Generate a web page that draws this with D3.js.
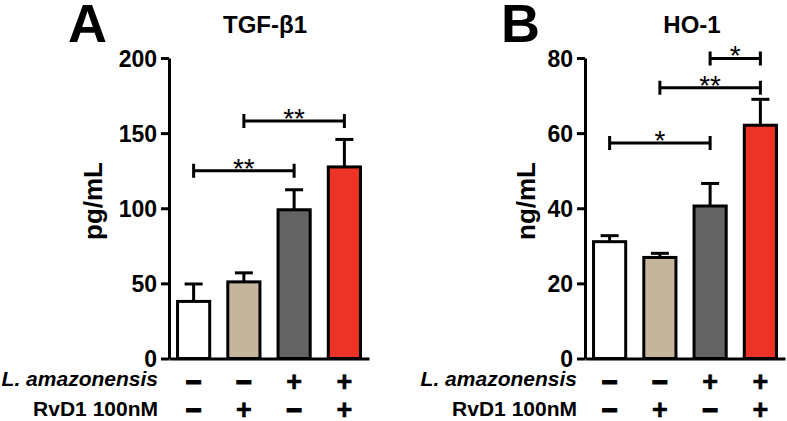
<!DOCTYPE html>
<html lang="en">
<head>
  <meta charset="UTF-8" />
  <title>TGF-β1 and HO-1</title>
  <script src="https://d3js.org/d3.v7.min.js"></script>
  <style>
    html, body {
      margin: 0;
      padding: 0;
      background: white;
      overflow: hidden;
    }
    svg text {
      font-family: "Liberation Sans", Arial, sans-serif;
      fill: black;
    }
  </style>
</head>
<body>
  <svg id="chart" width="787" height="421"></svg>

  <script>
    // groups (4 conditions) and the +/- table under the bars
    const groups = ["ctrl", "rvd1", "la", "la_rvd1"];
    const amazonensisRow = ["−", "−", "+", "+"];
    const rvd1Row = ["−", "+", "−", "+"];

    // panel A: TGF-beta1 (pg/mL)
    const tgfMeans = [38, 51, 99, 127.5];
    const tgfErrors = [11.6, 6, 13.3, 18.3];
    const tgfTicks = [0, 50, 100, 150, 200];
    const tgfSigFrom = [0, 1];
    const tgfSigTo = [2, 3];
    const tgfSigLevel = [125, 158];
    const tgfSigLabel = ["**", "**"];

    // panel B: HO-1 (ng/mL)
    const hoMeans = [31.1, 26.9, 40.6, 62.1];
    const hoErrors = [1.6, 1.1, 6.0, 6.9];
    const hoTicks = [0, 20, 40, 60, 80];
    const hoSigFrom = [0, 1, 2];
    const hoSigTo = [2, 3, 3];
    const hoSigLevel = [57.4, 72.1, 79.9];
    const hoSigLabel = ["*", "**", "*"];

    const barColors = ["#ffffff", "#c4b59c", "#636363", "#ec3325"];

    const svg = d3.select("#chart");
    const plotTop = 58;
    const plotBottom = 358.5;

    function drawPanel(p) {
      const x = d3.scaleBand()
        .domain(groups)
        .range([p.axisX, p.axisX + 200])
        .paddingInner(0.36)
        .paddingOuter(0.17);
      const y = d3.scaleLinear()
        .domain([0, p.ticks[p.ticks.length - 1]])
        .range([plotBottom, plotTop]);

      const g = svg.append("g");

      // bars
      g.selectAll("rect.bar")
        .data(p.means)
        .enter().append("rect")
        .attr("class", "bar")
        .attr("x", (d, i) => x(groups[i]))
        .attr("width", x.bandwidth())
        .attr("y", d => y(d))
        .attr("height", d => y(0) - y(d))
        .attr("fill", (d, i) => barColors[i])
        .attr("stroke", "black")
        .attr("stroke-width", 3);

      // error bars (upper whisker only)
      const cx = i => x(groups[i]) + x.bandwidth() / 2;
      p.means.forEach((m, i) => {
        const top = y(m + p.errors[i]);
        g.append("line")
          .attr("x1", cx(i)).attr("x2", cx(i))
          .attr("y1", y(m)).attr("y2", top)
          .attr("stroke", "black").attr("stroke-width", 3);
        g.append("line")
          .attr("x1", cx(i) - 9).attr("x2", cx(i) + 9)
          .attr("y1", top).attr("y2", top)
          .attr("stroke", "black").attr("stroke-width", 3);
      });

      // y axis
      const yAxis = g.append("g")
        .attr("transform", `translate(${p.axisX},0)`)
        .call(d3.axisLeft(y).tickValues(p.ticks).tickSize(8).tickSizeOuter(0).tickPadding(4));
      yAxis.select(".domain").attr("stroke-width", 3);
      yAxis.selectAll(".tick line").attr("stroke-width", 3);
      yAxis.selectAll(".tick text")
        .style("font-size", "23px")
        .style("font-weight", "bold")
        .attr("dy", "0.36em");

      // x axis line
      const xAxis = g.append("g")
        .attr("transform", `translate(0,${y(0)})`)
        .call(d3.axisBottom(x).tickValues([]).tickSizeOuter(0));
      xAxis.select(".domain").attr("stroke-width", 3);

      // significance brackets
      p.sigFrom.forEach((a, k) => {
        const b = p.sigTo[k];
        const ly = y(p.sigLevel[k]);
        g.append("path")
          .attr("d", `M${cx(a)},${ly - 7}V${ly + 7}M${cx(a)},${ly}H${cx(b)}M${cx(b)},${ly - 7}V${ly + 7}`)
          .attr("fill", "none")
          .attr("stroke", "black")
          .attr("stroke-width", 3);
        g.append("text")
          .attr("x", (cx(a) + cx(b)) / 2)
          .attr("y", ly + 7)
          .attr("text-anchor", "middle")
          .style("font-size", "28px")
          .text(p.sigLabel[k]);
      });

      // panel letter and title
      g.append("text")
        .attr("x", p.letterX).attr("y", 42)
        .style("font-size", "54px").style("font-weight", "bold")
        .text(p.letter);
      g.append("text")
        .attr("x", p.titleX).attr("y", 33)
        .attr("text-anchor", "middle")
        .style("font-size", "24px").style("font-weight", "bold")
        .text(p.title);

      // y label
      g.append("text")
        .attr("transform", `translate(${p.ylabelX},201) rotate(-90)`)
        .attr("text-anchor", "middle")
        .style("font-size", "26px").style("font-weight", "bold")
        .text(p.ylabel);

      // treatment table
      g.append("text")
        .attr("x", p.axisX - p.rowGap).attr("y", 386)
        .attr("text-anchor", "end")
        .style("font-size", "21px").style("font-weight", "bold").style("font-style", "italic")
        .text("L. amazonensis");
      g.append("text")
        .attr("x", p.axisX - p.rowGap).attr("y", 416)
        .attr("text-anchor", "end")
        .style("font-size", "21px").style("font-weight", "bold")
        .text("RvD1 100nM");

      [amazonensisRow, rvd1Row].forEach((row, r) => {
        g.selectAll(null)
          .data(row)
          .enter().append("text")
          .attr("x", (d, i) => cx(i))
          .attr("y", r === 0 ? 391 : 419)
          .attr("text-anchor", "middle")
          .style("font-size", "27px").style("font-weight", "bold")
          .attr("stroke", "black")
          .attr("stroke-width", d => d === "−" ? 1.6 : 0.6)
          .text(d => d);
      });
    }

    drawPanel({
      axisX: 169, means: tgfMeans, errors: tgfErrors, ticks: tgfTicks,
      sigFrom: tgfSigFrom, sigTo: tgfSigTo, sigLevel: tgfSigLevel, sigLabel: tgfSigLabel,
      letter: "A", letterX: 68, title: "TGF-β1", titleX: 265,
      ylabel: "pg/mL", ylabelX: 102, rowGap: 11
    });

    drawPanel({
      axisX: 585, means: hoMeans, errors: hoErrors, ticks: hoTicks,
      sigFrom: hoSigFrom, sigTo: hoSigTo, sigLevel: hoSigLevel, sigLabel: hoSigLabel,
      letter: "B", letterX: 501, title: "HO-1", titleX: 692,
      ylabel: "ng/mL", ylabelX: 535, rowGap: 8
    });
  </script>
</body>
</html>
